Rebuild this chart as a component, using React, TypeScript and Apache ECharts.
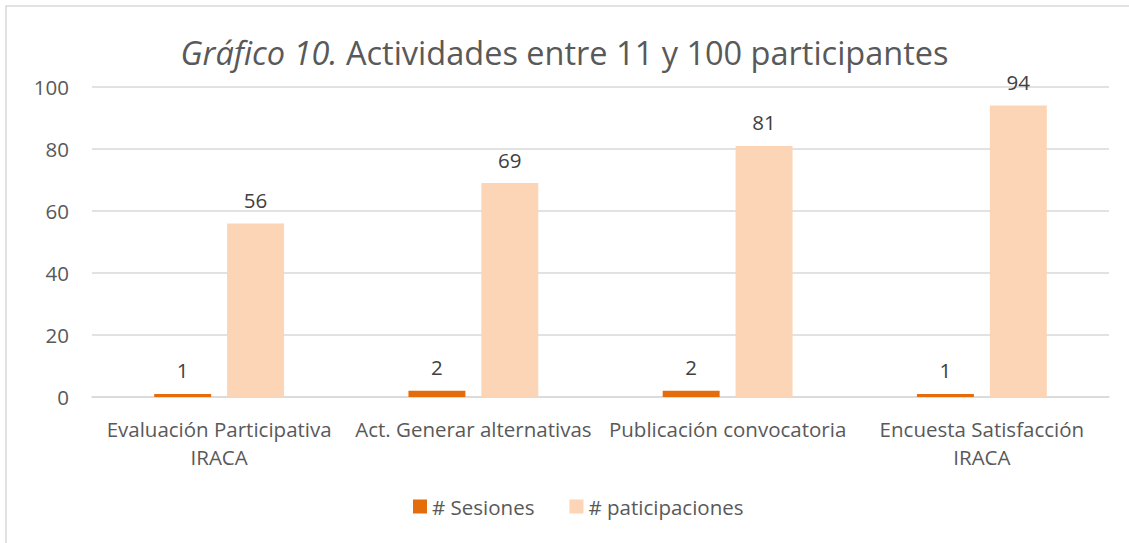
import React, { useEffect, useRef } from "react";
import * as echarts from "echarts";

const categories = [
  "Evaluación Participativa\nIRACA",
  "Act. Generar alternativas",
  "Publicación convocatoria",
  "Encuesta Satisfacción\nIRACA",
];
const sesiones = [1, 2, 2, 1];
const participaciones = [56, 69, 81, 94];
const seriesNames = ["# Sesiones", "# paticipaciones"];
const yTicks = { min: 0, max: 100, interval: 20 };

const FONT = "'Open Sans', 'Liberation Sans', Arial, sans-serif";
const TXT = "#595959";

export default function App() {
  const ref = useRef<HTMLDivElement>(null);
  useEffect(() => {
    if (!ref.current) return;
    const chart = echarts.init(ref.current, undefined, { renderer: "svg" });
    chart.setOption({
      animation: false,
      backgroundColor: "#ffffff",
      textStyle: { fontFamily: FONT, color: TXT },
      graphic: [
        {
          type: "rect",
          shape: { x: 6, y: 6, width: 1150, height: 560 },
          style: { fill: "none", stroke: "#d9d9d9", lineWidth: 1.5 },
          silent: true,
        },
      ],
      title: {
        left: "center",
        top: 31,
        text: "{i|Gráfico 10.} Actividades entre 11 y 100 participantes",
        textStyle: {
          fontFamily: FONT,
          fontSize: 32.5,
          fontWeight: "normal",
          color: TXT,
          rich: {
            i: { fontFamily: FONT, fontSize: 32.5, fontStyle: "italic", color: TXT },
          },
        },
      },
      legend: {
        bottom: 21,
        left: 408,
        itemWidth: 14,
        itemHeight: 14,
        itemGap: 35,
        icon: "rect",
        textStyle: { fontFamily: FONT, fontSize: 20.5, color: TXT },
        data: seriesNames,
      },
      grid: { left: 92, right: 20, top: 87, bottom: 146 },
      xAxis: {
        type: "category",
        data: categories,
        axisLine: { lineStyle: { color: "#d9d9d9", width: 1.5 } },
        axisTick: { show: false },
        axisLabel: {
          interval: 0,
          margin: 18,
          fontFamily: FONT,
          fontSize: 20.5,
          color: TXT,
          lineHeight: 28,
        },
      },
      yAxis: {
        type: "value",
        min: yTicks.min,
        max: yTicks.max,
        interval: yTicks.interval,
        axisLine: { show: false },
        axisTick: { show: false },
        splitLine: { lineStyle: { color: "#d9d9d9", width: 1.5 } },
        axisLabel: { margin: 23, fontFamily: FONT, fontSize: 20.5, color: TXT },
      },
      series: [
        {
          name: seriesNames[0],
          type: "bar",
          data: sesiones,
          barWidth: "22.4%",
          barGap: "28%",
          itemStyle: { color: "#E46C0A" },
          label: {
            show: true,
            position: "top",
            distance: 13,
            fontFamily: FONT,
            fontSize: 20.5,
            color: "#404040",
          },
        },
        {
          name: seriesNames[1],
          type: "bar",
          data: participaciones,
          barWidth: "22.4%",
          barGap: "28%",
          itemStyle: { color: "#FBD5B5" },
          label: {
            show: true,
            position: "top",
            distance: 13,
            fontFamily: FONT,
            fontSize: 20.5,
            color: "#404040",
          },
        },
      ],
    });
    return () => chart.dispose();
  }, []);
  return (
    <div
      ref={ref}
      style={{ position: "absolute", left: 0, top: 0, width: 1129, height: 543 }}
    />
  );
}
